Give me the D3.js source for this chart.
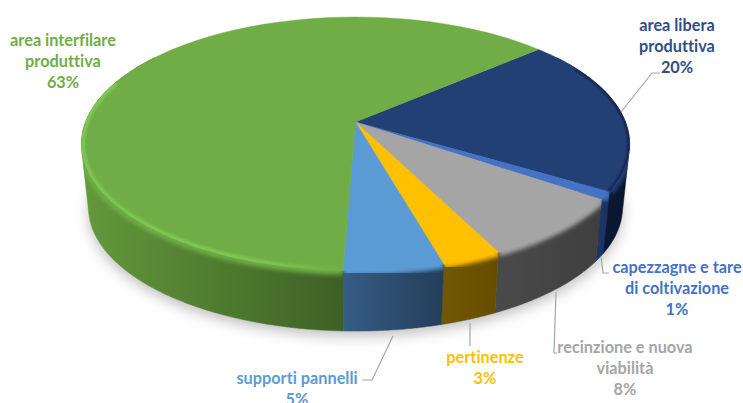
<!DOCTYPE html>
<html>
<head>
<meta charset="utf-8">
<script src="https://cdn.jsdelivr.net/npm/d3@7/dist/d3.min.js"></script>
<style>
html,body{margin:0;padding:0;background:#fff;overflow:hidden}
svg{display:block}
text{font-family:Lato,"Open Sans",sans-serif;font-weight:700;font-size:16.3px;text-anchor:middle;font-variant-ligatures:none}
</style>
</head>
<body>
<svg id="chart" width="743" height="403"></svg>
<script>
// Land use shares, clockwise from the upper right edge of the disc
const categories = ["area libera produttiva","capezzagne e tare di coltivazione","recinzione e nuova viabilità","pertinenze","supporti pannelli","area interfilare produttiva"];
const shares = [20,1,8,3,5,63];
const faceColors = ["#234075","#4472c4","#a5a5a5","#ffc000","#5b9bd5","#70ad47"];
const wallColors = [["#0d1d3f","#0a1630"],["#1d3768","#1a3060"],["#4a4a4a","#3f3f3f"],["#735800","#654d00"],["#365d85","#233e5a"],["#639a3c","#3d6024"]];
const labelColors = ["#2f4f85","#4472c4","#a5a5a5","#ffc000","#5b9bd5","#70ad47"];

const DEG = Math.PI / 180;
const svg = d3.select("#chart");
const defs = svg.append("defs");

// Perspective view of a circular disc: the nearer half looks larger
const K = 0.173;
function projector(cx, cy, a, b) {
  const sx = d3.scaleLinear().domain([0, 1]).range([0, a]);
  const sy = d3.scaleLinear().domain([0, 1]).range([0, b]);
  return t => {
    const u = Math.sin(t), v = -Math.cos(t), w = 1 - K * v;
    return [cx + sx(u) / w, cy + sy(v) / w];
  };
}
const APEX = [355.5, 122];
const topRim = projector(APEX[0], APEX[1], 270, 123.2);
const baseRim = projector(APEX[0], 186, 263, 120);

const pie = d3.pie().sort(null).value(d => d).startAngle(49 * DEG).endAngle(409 * DEG);
const arcs = pie(shares);
const line = d3.line();
const sweep = (a0, a1) => d3.range(0, 61).map(i => a0 + (a1 - a0) * i / 60);

// Filters
const blur = (id, s) => defs.append("filter").attr("id", id)
  .attr("x", "-20%").attr("y", "-20%").attr("width", "140%").attr("height", "140%")
  .append("feGaussianBlur").attr("stdDeviation", s);
blur("soft", 2.2);
blur("fine", 0.8);
blur("shadow", 7);

// Soft contact shadow beneath the disc
svg.append("path")
  .attr("d", line(sweep(0, 2 * Math.PI).map(baseRim)) + "Z")
  .attr("transform", "translate(0,5)")
  .attr("fill", "#000").attr("fill-opacity", 0.26)
  .attr("filter", "url(#shadow)");

// Side wall of each slice; the hull also fills the straight silhouette at both ends,
// and the far part of the sweep stays hidden under the top face
const FRONT = [55 * DEG, 305 * DEG];
const visibleRange = d => [Math.max(d.startAngle, FRONT[0]), Math.min(d.endAngle, FRONT[1])];

arcs.forEach((d, i) => {
  const [a0, a1] = visibleRange(d);
  if (a1 <= a0) return;
  const upper = sweep(a0, a1).map(topRim);
  const lower = sweep(a0, a1).map(baseRim);
  const hull = d3.polygonHull(upper.concat(lower));
  const xs = hull.map(p => p[0]);
  const grad = defs.append("linearGradient").attr("id", "wall" + i)
    .attr("gradientUnits", "userSpaceOnUse")
    .attr("x1", d3.min(xs)).attr("x2", d3.max(xs)).attr("y1", 0).attr("y2", 0);
  grad.append("stop").attr("offset", 0).attr("stop-color", wallColors[i][0]);
  grad.append("stop").attr("offset", 1).attr("stop-color", wallColors[i][1]);

  const wallPath = line(hull) + "Z";
  svg.append("path").attr("d", wallPath).attr("fill", `url(#wall${i})`)
    .attr("stroke", `url(#wall${i})`).attr("stroke-width", 0.5);

  // Rounded top edge: the face colour melts into the wall
  defs.append("clipPath").attr("id", "wallClip" + i).append("path").attr("d", wallPath);
  svg.append("g").attr("clip-path", `url(#wallClip${i})`)
    .append("path")
    .attr("d", line(upper))
    .attr("fill", "none").attr("stroke", faceColors[i]).attr("stroke-width", 8)
    .attr("filter", "url(#soft)");
});

// Top face
const faces = svg.append("g");
arcs.forEach((d, i) => {
  const outline = [APEX].concat(sweep(d.startAngle, d.endAngle).map(topRim));
  faces.append("path").attr("d", line(outline) + "Z")
    .attr("fill", faceColors[i]).attr("stroke", faceColors[i]).attr("stroke-width", 0.4);
});

// Bevel light on the left of the disc and darker edge on the right
defs.append("clipPath").attr("id", "faceClip").append("path")
  .attr("d", line(sweep(0, 2 * Math.PI).map(topRim)) + "Z");
const bevelFade = defs.append("linearGradient").attr("id", "bevelFade")
  .attr("gradientUnits", "userSpaceOnUse").attr("x1", 82).attr("x2", 338).attr("y1", 0).attr("y2", 0);
[[0, 0.9], [0.7, 0.9], [1, 0.1]].forEach(([o, a]) =>
  bevelFade.append("stop").attr("offset", o).attr("stop-color", "#80ca54").attr("stop-opacity", a));
const green = arcs[5], navy = arcs[0];
const bevels = svg.append("g").attr("clip-path", "url(#faceClip)");
bevels.append("path")
  .attr("d", line(sweep(green.startAngle, 290 * DEG).map(topRim)))
  .attr("fill", "none").attr("stroke", "url(#bevelFade)").attr("stroke-width", 7)
  .attr("filter", "url(#fine)");
bevels.append("path")
  .attr("d", line(sweep(62 * DEG, navy.endAngle).map(topRim)))
  .attr("fill", "none").attr("stroke", "#0d1d3f").attr("stroke-width", 4).attr("stroke-opacity", 0.8)
  .attr("filter", "url(#fine)");

// Leader lines from the disc to the labels
const leaderPaths = [
  [[621,112],[652,73],[660,73]],
  [[601,256],[603,273],[609,273]],
  [[556,292],[554,353],[557,353]],
  [[470,323],[470,346]],
  [[393,336],[372,380],[362,380]]
];
svg.append("g").selectAll("path").data(leaderPaths).join("path")
  .attr("d", d => line(d)).attr("fill", "none")
  .attr("stroke", "#a6a6a6").attr("stroke-width", 1.2);

// Data labels: name lines followed by the share
const labelLines = [
  ["area libera","produttiva"],
  ["capezzagne e tare","di coltivazione"],
  ["recinzione e nuova","viabilità"],
  ["pertinenze"],
  ["supporti pannelli"],
  ["area interfilare","produttiva"]
];
const labelAnchors = [[677,31],[677,273],[625,353],[485,363],[297,384],[63,46]];
const LEADING = 21.2;
labelLines.forEach((lines, i) => {
  const t = svg.append("text").attr("fill", labelColors[i]);
  lines.concat(shares[i] + "%").forEach((s, j) => {
    t.append("tspan").attr("x", labelAnchors[i][0]).attr("y", labelAnchors[i][1] + j * LEADING).text(s);
  });
});
</script>
</body>
</html>
